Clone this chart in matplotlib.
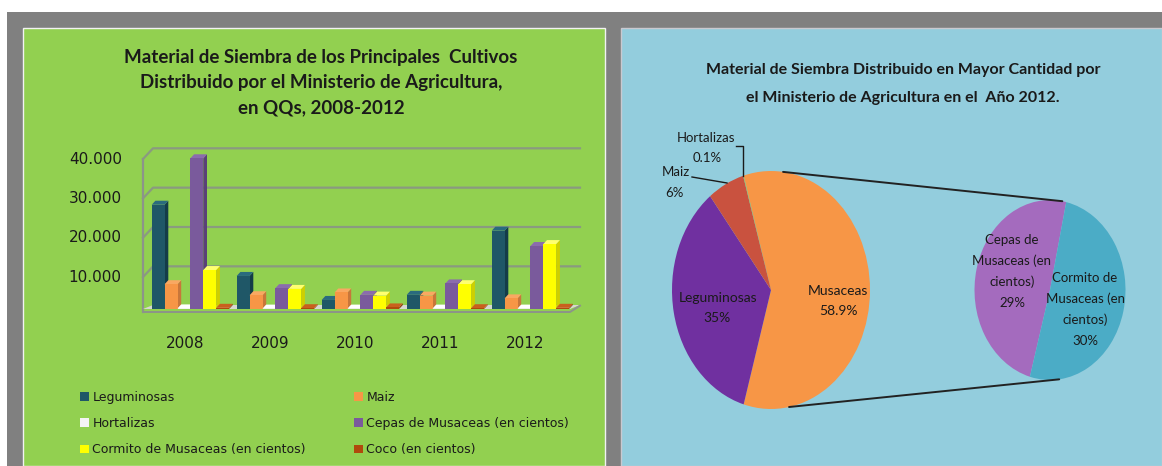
"""Recreate the two-panel chart: 3D-style grouped bars and pie-of-pie (2012)."""
import matplotlib
matplotlib.use("Agg")
import matplotlib.pyplot as plt
from matplotlib.patches import Rectangle, Patch, ConnectionPatch
from matplotlib.lines import Line2D
from matplotlib.transforms import ScaledTranslation
import numpy as np

W, H = 1162, 466

# ---- data -----------------------------------------------------------------
years = ["2008", "2009", "2010", "2011", "2012"]
series = ["Leguminosas", "Maiz", "Hortalizas", "Cepas de Musaceas (en cientos)",
          "Cormito de Musaceas (en cientos)", "Coco (en cientos)"]
leguminosas = [26500, 8400, 2300, 3600, 19900]
maiz = [6300, 3500, 4200, 3400, 2700]
hortalizas = [150, 100, 100, 100, 100]
cepas = [38300, 5300, 3600, 6500, 16000]
cormito = [9900, 5100, 3400, 6300, 16500]
coco = [300, 200, 400, 200, 300]
yticks = [10000, 20000, 30000, 40000]
ytick_labels = ["10.000", "20.000", "30.000", "40.000"]

pie_labels = ["Musaceas", "Leguminosas", "Maiz", "Hortalizas"]
pie_pct = [58.9, 35, 6, 0.1]
sub_labels = [["Cepas de", "Musaceas (en", "cientos)"], ["Cormito de", "Musaceas (en", "cientos)"]]
sub_pct = [29, 30]

# ---- colours --------------------------------------------------------------
GRAY = "#808080"; GREEN_BG = "#92D050"; BLUE_BG = "#93CDDD"; INK = "#1a1a1a"
front = ["#1f5767", "#f79646", "#f4f4f4", "#7a5a9c", "#ffff00", "#b04a0c"]
side = ["#143c48", "#c8763a", "#c9c9c9", "#5a4178", "#cfcf00", "#7e3406"]
top = ["#2a6b7e", "#f9a862", "#ffffff", "#8b6cad", "#ffff70", "#c9601e"]
pie_colors = ["#F79646", "#7030A0", "#C9523F", "#9BBB59"]
sub_colors = ["#A46BBE", "#4BACC6"]

LATO = ["Lato", "DejaVu Sans"]

fig = plt.figure(figsize=(W / 100, H / 100), dpi=100)
fig.patch.set_facecolor("white")


def fx(x):
    return x / W


def fy(y):
    return 1 - y / H


def px_axes(x0, y0, x1, y1):
    return fig.add_axes([fx(x0), fy(y1), (x1 - x0) / W, (y1 - y0) / H])


def rect(x0, y0, x1, y1, fc, ec="none", lw=0):
    fig.add_artist(Rectangle((fx(x0), fy(y1)), (x1 - x0) / W, (y1 - y0) / H,
                             transform=fig.transFigure, fc=fc, ec=ec, lw=lw, zorder=0))


def pline(xs, ys, color=INK, lw=1.0):
    fig.add_artist(Line2D([fx(x) for x in xs], [fy(y) for y in ys],
                          transform=fig.transFigure, color=color, lw=lw, zorder=5))


def ptext(x, y, s, fs=10, bold=False, family=LATO, ha="center"):
    fig.text(fx(x), fy(y), s, ha=ha, va="center", fontsize=fs, color=INK,
             fontweight="bold" if bold else "normal", family=family)


# background panels
rect(7, 12, W, H, GRAY)
rect(23, 28, 605, H, GREEN_BG, ec="#f2f2f2", lw=1)
rect(621, 28, W, H, BLUE_BG, ec="#c9c9d0", lw=1)

# ---- left: 3D-look grouped columns ----------------------------------------
ptext(321, 57, "Material de Siembra de los Principales  Cultivos", fs=13.5, bold=True)
ptext(321, 83, "Distribuido por el Ministerio de Agricultura,", fs=13.5, bold=True)
ptext(321, 108, "en QQs, 2008-2012", fs=13.5, bold=True)

PXV = 39.35 / 10000          # pixels per unit value
X0, X1, Y0, Y1 = 143, 580, 140, 312
ax = px_axes(X0, Y0, X1, Y1)
ax.set_xlim((X0 - 190.4) / 85, (X1 - 190.4) / 85)
ax.set_ylim(-(Y1 - 309) / PXV, (309 - Y0) / PXV)
ax.patch.set_alpha(0)
for s in ax.spines.values():
    s.set_visible(False)

step = 12.9 / 85
dx, dy = 3.7 / 85, 4 / PXV
xl, xr = ax.get_xlim()
back = 3.3 / PXV

# back-wall gridlines with a short diagonal on the left wall
for v in yticks:
    ax.plot([xl, xl + 10 / 85, xr], [v + back - 10.7 / PXV, v + back, v + back],
            color="#8a9a80", lw=1.6, zorder=1, clip_on=False)
ax.plot([xl, xl], [-3 / PXV, yticks[-1] + back - 10.7 / PXV], color="#8c948a", lw=1.6,
        zorder=1, clip_on=False)
# floor
ax.fill([xl, xl + 10 / 85, xr, xr - 10 / 85], [0, dy, dy, 0], color="#d6d8d0", zorder=1,
        lw=0)
ax.plot([xl, xr - 10 / 85, xr], [-3 / PXV, -3 / PXV, back], color="#8c948a", lw=1.4,
        zorder=1, clip_on=False)

data = [leguminosas, maiz, hortalizas, cepas, cormito, coco]
groups = np.arange(len(years))
for k, vals in enumerate(data):
    xs = groups - 3 * step + k * step
    for x, v in zip(xs, vals):
        ax.fill([x + step, x + step + dx, x + step + dx, x + step],
                [0, dy, v + dy, v], color=side[k], lw=0, zorder=3 + k)
        ax.fill([x, x + dx, x + step + dx, x + step],
                [v, v + dy, v + dy, v], color=top[k], lw=0, zorder=3 + k)
    ax.bar(xs, vals, width=step, align="edge", color=front[k], lw=0, zorder=3 + k)

ax.set_yticks(yticks, ytick_labels)
ax.set_xticks(groups, years)
ax.tick_params(length=0, labelsize=11, labelcolor=INK)
ax.tick_params(axis="y", pad=15.3)
ax.tick_params(axis="x", pad=17.3)
for lbl in ax.get_yticklabels():
    lbl.set_transform(lbl.get_transform() + ScaledTranslation(0, -0.06, fig.dpi_scale_trans))
for lbl in ax.get_xticklabels():
    lbl.set_transform(lbl.get_transform() + ScaledTranslation(-0.05, 0, fig.dpi_scale_trans))

handles = [Patch(fc=front[k], ec="none", label=series[k]) for k in range(6)]
leg_kw = dict(loc="upper left", frameon=False, fontsize=9, handlelength=0.7,
              handleheight=0.7, handletextpad=0.3, labelspacing=1.05, borderpad=0,
              borderaxespad=0, labelcolor=INK)
fig.legend(handles=[handles[0], handles[2], handles[4]], bbox_to_anchor=(fx(80), fy(391)), **leg_kw)
fig.legend(handles=[handles[1], handles[3], handles[5]], bbox_to_anchor=(fx(354), fy(391)), **leg_kw)

# ---- right: pie of pie ----------------------------------------------------
ptext(903, 70, "Material de Siembra Distribuido en Mayor Cantidad por", fs=11.5, bold=True)
ptext(903, 98, "el Ministerio de Agricultura en el  Año 2012.", fs=11.5, bold=True)

MCX, MCY, MRX, MRY = 771, 290, 99, 119
axm = px_axes(MCX - 111, MCY - 130, MCX + 111, MCY + 130)
axm.pie(pie_pct, colors=pie_colors, startangle=106, counterclock=False,
        wedgeprops=dict(linewidth=0))
axm.set_aspect("auto")
axm.set_xlim(-111 / MRX, 111 / MRX)
axm.set_ylim(-130 / MRY, 130 / MRY)
axm.axis("off")

SCX, SCY, SRX, SRY = 1050, 290, 75.5, 90
axs = px_axes(SCX - 85, SCY - 95, SCX + 85, SCY + 95)
axs.pie(sub_pct, colors=sub_colors, startangle=77.6, counterclock=True,
        wedgeprops=dict(linewidth=0))
axs.set_aspect("auto")
axs.set_xlim(-85 / SRX, 85 / SRX)
axs.set_ylim(-95 / SRY, 95 / SRY)
axs.axis("off")

for a_main, a_sub in [(83, 80.6), (-79.5, -83)]:
    ra, rb = np.radians(a_main), np.radians(a_sub)
    fig.add_artist(ConnectionPatch((np.cos(ra), np.sin(ra)), (np.cos(rb), np.sin(rb)),
                                   coordsA=axm.transData, coordsB=axs.transData,
                                   color="#222222", lw=1.4, zorder=6))

# slice labels
ptext(706, 138, pie_labels[3], fs=9.5)
ptext(707, 158, f"{pie_pct[3]}%", fs=9.5)
pline([736, 743, 743], [146, 146, 176])
ptext(676, 172, pie_labels[2], fs=9.5)
ptext(674, 193, f"{pie_pct[2]:.0f}%", fs=9.5)
pline([692, 727], [177, 183])
ptext(718, 298, pie_labels[1], fs=10)
ptext(717, 318, f"{pie_pct[1]:.0f}%", fs=10)
ptext(838, 291, pie_labels[0], fs=10)
ptext(838, 311, f"{pie_pct[0]}%", fs=10)

for (cx, cy0), lines, pct in zip([(1012, 240), (1085, 278)], sub_labels, sub_pct):
    for j, s in enumerate(lines + [f"{pct}%"]):
        ptext(cx, cy0 + 21 * j, s, fs=9.5)

fig.savefig("out.png", dpi=100, facecolor="white")
